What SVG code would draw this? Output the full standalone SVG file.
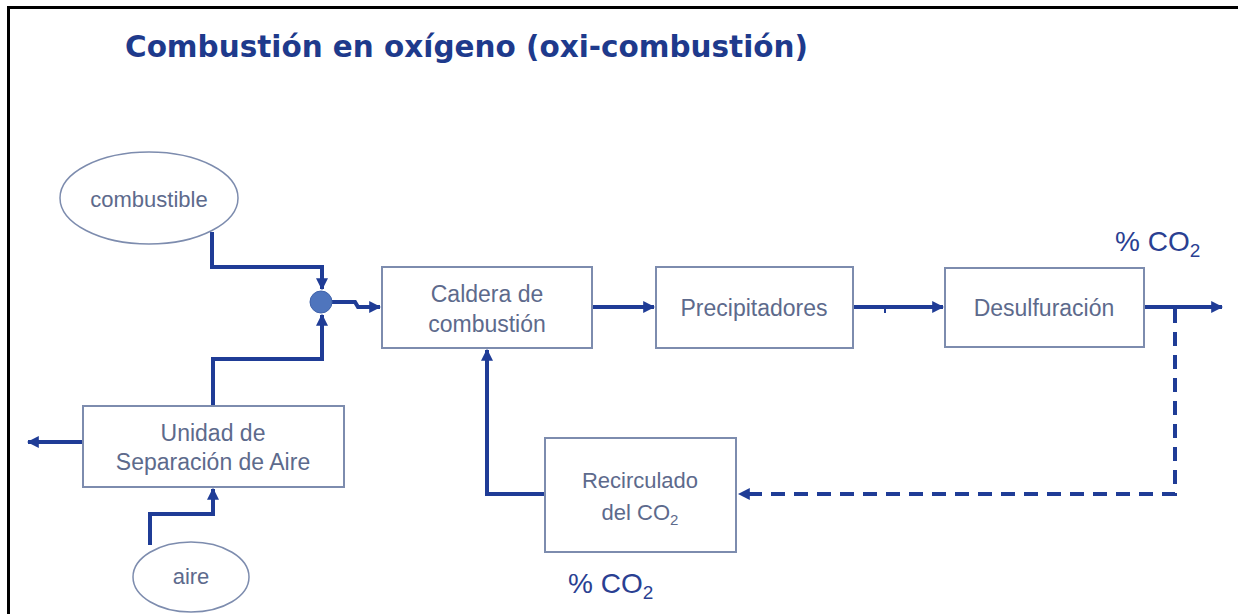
<svg xmlns="http://www.w3.org/2000/svg" width="1238" height="614" viewBox="0 0 1238 614">
<defs>
<style>
.box{fill:#ffffff;stroke:#7d8cae;stroke-width:2}
.ell{fill:#ffffff;stroke:#7d8cae;stroke-width:1.5}
.lbl{font-family:"Liberation Sans",Arial,sans-serif;fill:#5d6a8c;text-anchor:middle}
.con{fill:none;stroke:#1f3c96;stroke-width:4}
.dash{fill:none;stroke:#1f3c96;stroke-width:4;stroke-dasharray:14 9}
.co2{font-family:"Liberation Sans",Arial,sans-serif;fill:#2a3f92;font-size:28px}
</style>
<marker id="ah" viewBox="0 0 10 10" refX="9" refY="5" markerWidth="3" markerHeight="3" orient="auto" markerUnits="strokeWidth">
<path d="M0,0 L10,5 L0,10 z" fill="#1f3c96"/>
</marker>
</defs>
<rect x="0" y="0" width="1238" height="614" fill="#ffffff"/>
<path d="M8.5,620 V7.5 H1240" fill="none" stroke="#000000" stroke-width="3"/>
<text x="125" y="57" font-family="DejaVu Sans,Verdana,sans-serif" font-weight="bold" font-size="30" fill="#1e3a8c" textLength="683" lengthAdjust="spacingAndGlyphs">Combustión en oxígeno (oxi-combustión)</text>

<g id="connectors">
<path class="con" d="M212,232 V267 H322 V289" marker-end="url(#ah)"/>
<path class="con" d="M213,406 V359 H322 V315" marker-end="url(#ah)"/>
<path class="con" d="M332,302 H355 L358,307 H380" marker-end="url(#ah)"/>
<path class="con" d="M150,545 V514 H213 V489" marker-end="url(#ah)"/>
<path class="con" d="M83,442 H28" marker-end="url(#ah)"/>
<path class="con" d="M592,307 H654" marker-end="url(#ah)"/>
<path class="con" d="M853,307 H943" marker-end="url(#ah)"/>
<path d="M885,307 V313" stroke="#1f3c96" stroke-width="2"/>
<path class="con" d="M1144,307 H1222" marker-end="url(#ah)"/>
<path class="dash" d="M1175,309 V494 H739" marker-end="url(#ah)"/>
<path class="con" d="M545,494 H487 V350" marker-end="url(#ah)"/>
</g>

<g id="junction">
<circle cx="321" cy="302" r="11" fill="#4f75bd" stroke="#3f62aa" stroke-width="1"/>
</g>

<g id="combustible">
<ellipse class="ell" cx="149" cy="198" rx="89" ry="46"/>
<text class="lbl" x="149" y="207" font-size="22">combustible</text>
</g>

<g id="aire">
<ellipse class="ell" cx="191" cy="577" rx="58" ry="35"/>
<text class="lbl" x="191" y="584" font-size="22">aire</text>
</g>

<g id="usa">
<rect class="box" x="83" y="406" width="261" height="81"/>
<text class="lbl" x="213" y="441" font-size="23">Unidad de</text>
<text class="lbl" x="213" y="470" font-size="23">Separación de Aire</text>
</g>

<g id="caldera">
<rect class="box" x="382" y="267" width="210" height="81"/>
<text class="lbl" x="487" y="302" font-size="23">Caldera de</text>
<text class="lbl" x="487" y="332" font-size="23">combustión</text>
</g>

<g id="precipitadores">
<rect class="box" x="656" y="267" width="197" height="81"/>
<text class="lbl" x="754" y="316" font-size="23">Precipitadores</text>
</g>

<g id="desulfuracion">
<rect class="box" x="945" y="268" width="199" height="79"/>
<text class="lbl" x="1044" y="316" font-size="23">Desulfuración</text>
</g>

<g id="recirculado">
<rect class="box" x="545" y="438" width="191" height="114"/>
<text class="lbl" x="640" y="488" font-size="22">Recirculado</text>
<text class="lbl" x="640" y="520" font-size="22">del CO<tspan font-size="15" dy="5">2</tspan></text>
</g>

<g id="labels">
<text class="co2" x="1115" y="251">% CO<tspan font-size="19" dy="6">2</tspan></text>
<text class="co2" x="568" y="593">% CO<tspan font-size="19" dy="6">2</tspan></text>
</g>
</svg>
